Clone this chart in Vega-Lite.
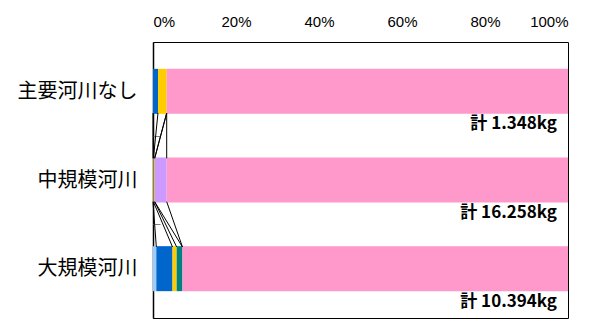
{
  "$schema": "https://vega.github.io/schema/vega-lite/v6.json",
  "autosize": {"type": "none"},
  "padding": {"left": 153, "top": 42, "right": 30, "bottom": 2},
  "width": 415,
  "height": 276,
  "background": "white",
  "config": {
    "view": {"stroke": "#000000", "strokeWidth": 1},
    "font": "Noto Sans CJK JP"
  },
  "datasets": {
    "bars": [
      {"cat": "主要河川なし", "pos": 0.5, "series": "s1", "ord": 1, "pct": 0},
      {"cat": "主要河川なし", "pos": 0.5, "series": "s2", "ord": 2, "pct": 1.2},
      {"cat": "主要河川なし", "pos": 0.5, "series": "s3", "ord": 3, "pct": 2.1},
      {"cat": "主要河川なし", "pos": 0.5, "series": "s4", "ord": 4, "pct": 0},
      {"cat": "主要河川なし", "pos": 0.5, "series": "s5", "ord": 5, "pct": 0},
      {"cat": "主要河川なし", "pos": 0.5, "series": "s6", "ord": 6, "pct": 96.7},
      {"cat": "中規模河川", "pos": 1.5, "series": "s1", "ord": 1, "pct": 0},
      {"cat": "中規模河川", "pos": 1.5, "series": "s2", "ord": 2, "pct": 0.1},
      {"cat": "中規模河川", "pos": 1.5, "series": "s3", "ord": 3, "pct": 0.3},
      {"cat": "中規模河川", "pos": 1.5, "series": "s4", "ord": 4, "pct": 0},
      {"cat": "中規模河川", "pos": 1.5, "series": "s5", "ord": 5, "pct": 2.9},
      {"cat": "中規模河川", "pos": 1.5, "series": "s6", "ord": 6, "pct": 96.7},
      {"cat": "大規模河川", "pos": 2.5, "series": "s1", "ord": 1, "pct": 0.8},
      {"cat": "大規模河川", "pos": 2.5, "series": "s2", "ord": 2, "pct": 3.9},
      {"cat": "大規模河川", "pos": 2.5, "series": "s3", "ord": 3, "pct": 1.0},
      {"cat": "大規模河川", "pos": 2.5, "series": "s4", "ord": 4, "pct": 1.4},
      {"cat": "大規模河川", "pos": 2.5, "series": "s5", "ord": 5, "pct": 0},
      {"cat": "大規模河川", "pos": 2.5, "series": "s6", "ord": 6, "pct": 92.9}
    ],
    "links": [
      {"from": 0, "to": 0, "y1": 0.745, "y2": 1.255},
      {"from": 1.2, "to": 0.1, "y1": 0.745, "y2": 1.255},
      {"from": 3.3, "to": 0.4, "y1": 0.745, "y2": 1.255},
      {"from": 3.3, "to": 0.4, "y1": 0.745, "y2": 1.255},
      {"from": 3.3, "to": 3.3, "y1": 0.745, "y2": 1.255},
      {"from": 0, "to": 0.8, "y1": 1.745, "y2": 2.255},
      {"from": 0.1, "to": 4.7, "y1": 1.745, "y2": 2.255},
      {"from": 0.4, "to": 5.7, "y1": 1.745, "y2": 2.255},
      {"from": 0.4, "to": 7.1, "y1": 1.745, "y2": 2.255},
      {"from": 3.3, "to": 7.1, "y1": 1.745, "y2": 2.255}
    ],
    "totals": [
      {"cat": "主要河川なし", "pos": 0.87, "pct": 100, "label": "計 1.348kg"},
      {"cat": "中規模河川", "pos": 1.87, "pct": 100, "label": "計 16.258kg"},
      {"cat": "大規模河川", "pos": 2.88, "pct": 100, "label": "計 10.394kg"}
    ]
  },
  "layer": [
    {
      "data": {"name": "bars"},
      "mark": {"type": "bar", "orient": "horizontal", "size": 45},
      "encoding": {
        "x": {
          "field": "pct", "type": "quantitative", "stack": "zero",
          "scale": {"domain": [0, 100], "nice": false},
          "axis": {
            "orient": "top", "values": [0, 20, 40, 60, 80, 100],
            "labelExpr": "datum.value + '%'", "title": null,
            "ticks": false, "domain": false, "grid": false,
            "labelFont": "Liberation Sans", "labelFontSize": 15,
            "labelColor": "#000000", "labelPadding": 13
          }
        },
        "y": {
          "field": "pos", "type": "quantitative",
          "scale": {"domain": [0, 3], "reverse": true, "nice": false},
          "axis": {
            "values": [0.5, 1.5, 2.5],
            "labelExpr": "datum.value < 1 ? '主要河川なし' : datum.value < 2 ? '中規模河川' : '大規模河川'",
            "title": null, "ticks": false, "grid": false,
            "domain": true, "domainColor": "#000000", "domainWidth": 1.5,
            "labelFont": "Noto Sans CJK JP", "labelFontSize": 20,
            "labelColor": "#000000", "labelPadding": 16
          }
        },
        "color": {
          "field": "series", "type": "nominal", "legend": null,
          "scale": {
            "domain": ["s1", "s2", "s3", "s4", "s5", "s6"],
            "range": ["#99CCFF", "#0066CC", "#FFCC00", "#008080", "#CC99FF", "#FF99CC"]
          }
        },
        "order": {"field": "ord", "type": "quantitative"}
      }
    },
    {
      "data": {"name": "links"},
      "mark": {"type": "rule", "color": "#000000", "strokeWidth": 1},
      "encoding": {
        "x": {"field": "from", "type": "quantitative"},
        "x2": {"field": "to"},
        "y": {
          "field": "y1", "type": "quantitative",
          "axis": {
            "orient": "left", "values": [1, 2], "labels": false, "domain": false,
            "grid": false, "title": null, "ticks": true, "tickSize": -7,
            "tickColor": "#808080", "tickWidth": 1
          }
        },
        "y2": {"field": "y2"}
      }
    },
    {
      "data": {"name": "totals"},
      "mark": {"type": "text", "align": "right", "baseline": "middle", "dx": -11,
               "font": "Noto Sans CJK JP", "fontWeight": "bold", "fontSize": 17, "color": "#000000"},
      "encoding": {
        "x": {"field": "pct", "type": "quantitative"},
        "y": {"field": "pos", "type": "quantitative", "axis": null},
        "text": {"field": "label"}
      }
    }
  ],
  "resolve": {"axis": {"y": "independent"}}
}
